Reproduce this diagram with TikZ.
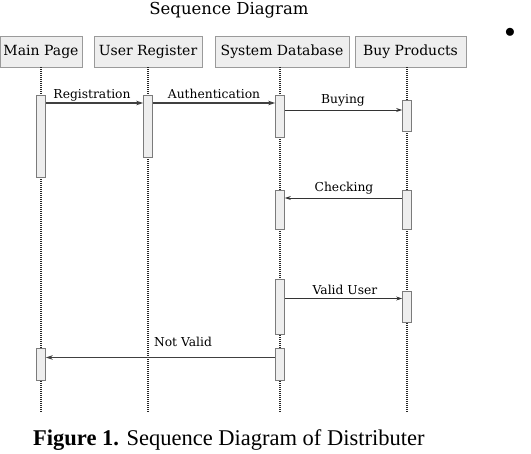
\documentclass[tikz,border=0pt]{standalone}
\usepackage{fontspec}
\setmainfont{DejaVu Serif}
\newfontfamily\capfont{Liberation Serif}
\usetikzlibrary{arrows.meta}
\definecolor{boxfill}{HTML}{EEEEEE}
\definecolor{boxline}{HTML}{9A9A9A}
\begin{document}
\begin{tikzpicture}[x=1pt,y=-1pt,
  head/.style={draw=boxline,fill=boxfill,line width=0.6pt,inner sep=0pt,font=\fontsize{14}{15}\selectfont},
  bar/.style={draw=boxline!80!black,fill=boxfill,line width=0.7pt,inner sep=0pt,minimum width=9pt,anchor=north},
  life/.style={draw=black!85,line width=1.2pt,dash pattern=on 1pt off 1pt},
  msg/.style={draw=black!80,line width=0.7pt,-{Stealth[length=6pt,width=4pt]}},
  bmsg/.style={draw=black!75,line width=1.6pt,-{Stealth[length=7pt,width=4.5pt]}},
  lbl/.style={font=\fontsize{12.3}{13}\selectfont,inner sep=0pt,anchor=base}
]
\useasboundingbox (0,0) rectangle (531,454);
% title
\node[font=\fontsize{16.5}{17}\selectfont,anchor=base] (title) at (229,15) {Sequence Diagram};
\node[font=\fontsize{20}{20}\selectfont] (bullet) at (510,33) {$\bullet$};
% headers
\node[head,minimum width=82pt,minimum height=31pt] (mp) at (41,51.5) {Main Page};
\node[head,minimum width=108pt,minimum height=31pt] (ur) at (148,51.5) {User Register};
\node[head,minimum width=134pt,minimum height=31pt] (sd) at (282,51.5) {System Database};
\node[head,minimum width=111pt,minimum height=31pt] (bp) at (410.5,51.5) {Buy Products};
% lifeline ends
\coordinate (mpE) at (41,412);
\coordinate (urE) at (148,412);
\coordinate (sdE) at (280,412);
\coordinate (bpE) at (407,412);
\draw[life] (mp.south -| mpE) -- (mpE);
\draw[life] (ur.south -| urE) -- (urE);
\draw[life] (sd.south -| sdE) -- (sdE);
\draw[life] (bp.south -| bpE) -- (bpE);
% activation bars
\node[bar,minimum height=82pt] (mp1) at (41,95) {};
\node[bar,minimum height=62pt] (ur1) at (148,95) {};
\node[bar,minimum height=42pt] (sd1) at (280,95) {};
\node[bar,minimum height=31pt] (bp1) at (407,100) {};
\node[bar,minimum height=39pt] (sd2) at (280,190) {};
\node[bar,minimum height=39pt] (bp2) at (407,190) {};
\node[bar,minimum height=55pt] (sd3) at (280,279) {};
\node[bar,minimum height=31pt] (bp3) at (407,291) {};
\node[bar,minimum height=32pt] (sd4) at (280,348) {};
\node[bar,minimum height=32pt] (mp2) at (41,348) {};
% messages
\draw[bmsg] (mp1.east |- 0,103) -- (ur1.west |- 0,103);
\node[lbl] (l1) at (92,98.5) {Registration};
\draw[bmsg] (ur1.east |- 0,103) -- (sd1.west |- 0,103);
\node[lbl] (l2) at (214,98.5) {Authentication};
\draw[msg] (sd1.east |- 0,110) -- (bp1.west |- 0,110);
\node[lbl] (l3) at (343,104) {Buying};
\draw[msg] (bp2.west |- 0,198) -- (sd2.east |- 0,198);
\node[lbl] (l4) at (344,192) {Checking};
\draw[msg] (sd3.east |- 0,298.5) -- (bp3.west |- 0,298.5);
\node[lbl] (l5) at (345,295) {Valid User};
\draw[bmsg] (sd4.west |- 0,357.5) -- (mp2.east |- 0,357.5);
\node[lbl] (l6) at (183,346.5) {Not Valid};
% caption
\node[anchor=base west,inner sep=0pt,font=\capfont\fontsize{22.5}{23}\selectfont] (cap) at (33,446) {\textbf{Figure 1.} Sequence Diagram of Distributer};
\end{tikzpicture}
\end{document}
